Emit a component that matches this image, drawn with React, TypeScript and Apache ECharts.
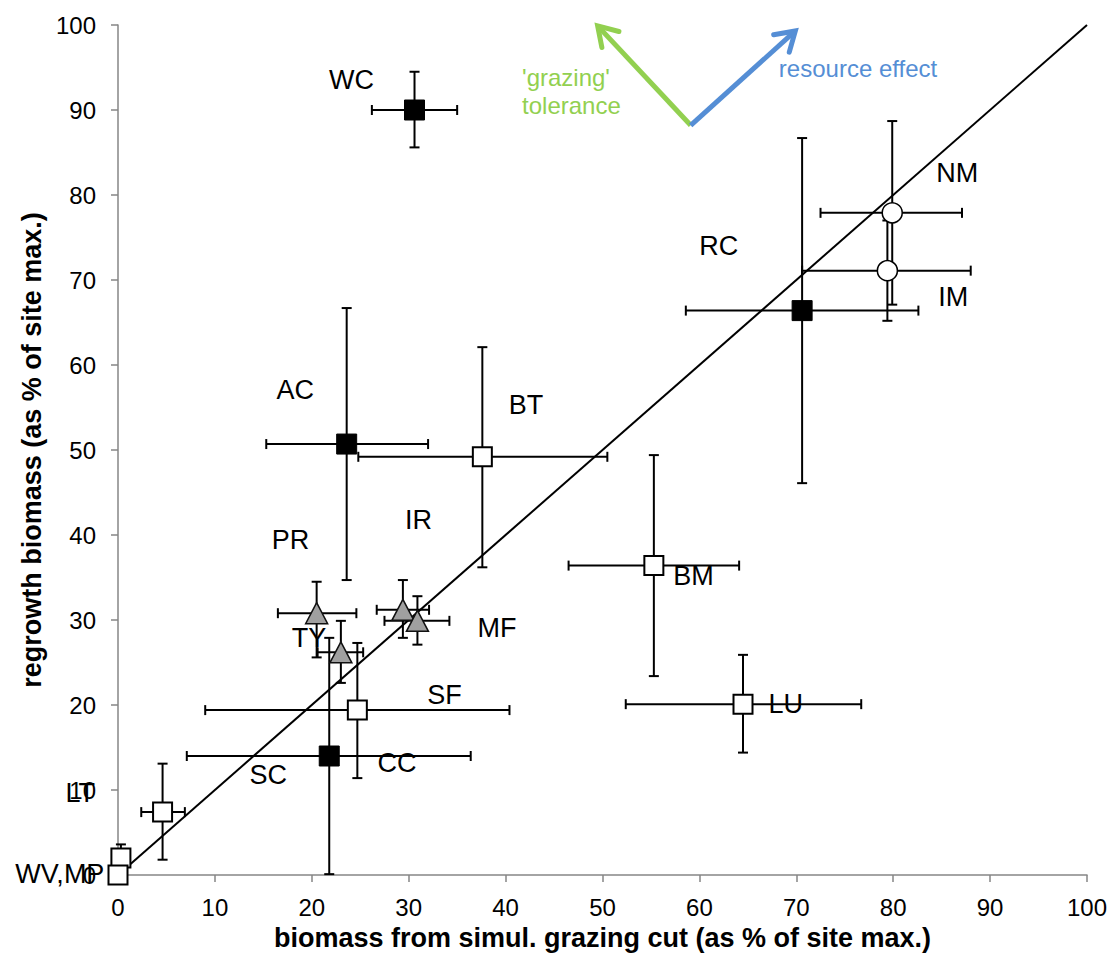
import React, { useEffect, useRef } from "react";
import * as echarts from "echarts";

// ---- data (x = biomass from simul. grazing cut, y = regrowth biomass), with error bounds ----
const filledSquares = [
  // [x, y, xLow, xHigh, yLow, yHigh]
  [30.6, 90.0, 26.2, 35.0, 85.6, 94.5], // WC
  [23.6, 50.7, 15.3, 32.0, 34.7, 66.7], // AC
  [70.6, 66.4, 58.6, 82.6, 46.1, 86.7], // RC
  [21.8, 14.0, 7.1, 36.4, 0.1, 27.9], // CC
];
const openSquares = [
  [37.6, 49.2, 24.8, 50.5, 36.2, 62.1], // BT
  [55.3, 36.4, 46.5, 64.1, 23.4, 49.4], // BM
  [64.5, 20.1, 52.4, 76.7, 14.4, 25.9], // LU
  [24.7, 19.4, 9.0, 40.4, 11.4, 27.3], // SF
  [4.6, 7.4, 2.4, 6.9, 1.8, 13.1], // LT
  [0.3, 2.0, 0.3, 0.3, 0.4, 3.6], // WV
  [0.0, 0.0, 0.0, 0.0, 0.0, 0.0], // MP
];
const openCircles = [
  [79.9, 77.9, 72.5, 87.1, 67.1, 88.7], // NM
  [79.4, 71.1, 70.6, 88.0, 65.2, 77.0], // IM
];
const triangles = [
  [20.5, 30.8, 16.5, 24.6, 25.6, 34.5], // PR
  [23.0, 26.2, 20.6, 25.3, 22.6, 29.9], // TY
  [29.4, 31.2, 26.7, 32.1, 27.9, 34.7], // IR
  [30.9, 29.9, 27.5, 34.2, 27.1, 32.8], // MF
];

const oneToOne = [
  [0, 0],
  [100, 100],
];

const labelNames = ["WC", "NM", "RC", "IM", "AC", "BT", "IR", "PR", "BM", "MF", "TY", "SF", "LU", "CC", "SC", "LT", "WV,MP"];
// label anchor points (data units)
const labelAnchors = [
  [24.1, 93.5], [86.6, 82.6], [62.0, 74.0], [86.2, 68.0], [18.3, 57.1], [42.1, 55.3],
  [31.0, 41.8], [17.8, 39.4], [59.4, 35.2], [39.1, 29.1], [19.7, 27.9], [33.7, 21.2],
  [68.9, 20.1], [28.8, 13.2], [15.5, 11.8], [-3.9, 9.6], [-6.0, 0.1],
];

const FONT = "'Liberation Sans', Arial, sans-serif";
const GREEN = "#92D050";
const BLUE = "#558ED5";

function errorBarRender(params: any, api: any) {
  const x = api.value(0);
  const y = api.value(1);
  const xl = api.value(2);
  const xh = api.value(3);
  const yl = api.value(4);
  const yh = api.value(5);
  const a = api.coord([xl, y]);
  const b = api.coord([xh, y]);
  const c = api.coord([x, yl]);
  const d = api.coord([x, yh]);
  const cap = 5;
  const style = { stroke: "#000", lineWidth: 2, fill: null };
  const ln = (x1: number, y1: number, x2: number, y2: number) => ({
    type: "line",
    shape: { x1, y1, x2, y2 },
    style,
  });
  return {
    type: "group",
    children: [
      ln(a[0], a[1], b[0], b[1]),
      ln(a[0], a[1] - cap, a[0], a[1] + cap),
      ln(b[0], b[1] - cap, b[0], b[1] + cap),
      ln(c[0], c[1], d[0], d[1]),
      ln(c[0] - cap, c[1], c[0] + cap, c[1]),
      ln(d[0] - cap, d[1], d[0] + cap, d[1]),
    ],
  };
}

export default function App() {
  const ref = useRef<HTMLDivElement>(null);
  useEffect(() => {
    document.body.style.margin = "0";
    const chart = echarts.init(ref.current!, undefined, { renderer: "svg" });
    const allPoints = [...filledSquares, ...openSquares, ...openCircles, ...triangles];
    const pts = (arr: number[][]) => arr.map((r) => [r[0], r[1]]);
    const axisCommon = {
      min: 0,
      max: 100,
      interval: 10,
      splitLine: { show: false },
      axisLine: { show: true, onZero: false, lineStyle: { color: "#868686", width: 1.5 } },
      axisTick: { show: true, inside: false, length: 7, lineStyle: { color: "#868686", width: 1.5 } },
      nameLocation: "middle",
      nameTextStyle: { color: "#000", fontSize: 27, fontWeight: "bold", fontFamily: FONT },
    };
    const markerBase = { opacity: 1 };
    chart.setOption({
      animation: false,
      backgroundColor: "#fff",
      textStyle: { fontFamily: FONT },
      grid: { left: 118, right: 29, top: 25, bottom: 83, containLabel: false, outerBoundsMode: "none" },
      xAxis: {
        type: "value",
        ...axisCommon,
        axisLabel: { color: "#000", fontSize: 24, fontFamily: FONT, margin: 20 },
        name: "biomass from simul. grazing cut (as % of site max.)",
        nameGap: 49,
      },
      yAxis: {
        type: "value",
        ...axisCommon,
        axisLabel: { color: "#000", fontSize: 24, fontFamily: FONT, margin: 22 },
        name: "regrowth biomass (as % of site max.)",
        nameGap: 72,
      },
      series: [
        {
          type: "line",
          data: oneToOne,
          symbol: "none",
          lineStyle: { color: "#000", width: 2 },
          z: 2,
          silent: true,
        },
        {
          type: "custom",
          data: allPoints,
          renderItem: errorBarRender,
          encode: { x: 0, y: 1 },
          z: 3,
          clip: false,
          silent: true,
        },
        {
          type: "scatter",
          data: pts(filledSquares),
          symbol: "rect",
          symbolSize: 20,
          itemStyle: { ...markerBase, color: "#000", borderColor: "#000", borderWidth: 1 },
          z: 4,
        },
        {
          type: "scatter",
          data: pts(openSquares),
          symbol: "rect",
          symbolSize: 19,
          itemStyle: { ...markerBase, color: "#fff", borderColor: "#000", borderWidth: 2 },
          z: 4,
        },
        {
          type: "scatter",
          data: pts(openCircles),
          symbol: "circle",
          symbolSize: 20,
          itemStyle: { ...markerBase, color: "#fff", borderColor: "#000", borderWidth: 1.5 },
          z: 4,
        },
        {
          type: "scatter",
          data: pts(triangles),
          symbol: "triangle",
          symbolSize: [22, 21],
          itemStyle: { ...markerBase, color: "#a0a0a0", borderColor: "#111", borderWidth: 1.5 },
          z: 4,
        },
        {
          type: "scatter",
          data: labelNames.map((n, i) => ({ name: n, value: labelAnchors[i] })),
          symbolSize: 0,
          silent: true,
          clip: false,
          itemStyle: { opacity: 1 },
          label: {
            show: true,
            position: "inside",
            formatter: "{b}",
            color: "#000",
            opacity: 1,
            fontSize: 27,
            fontFamily: FONT,
          },
          z: 6,
        },
      ],
    });

    // annotation arrows / texts (positioned in data units, converted to pixels)
    const P = (x: number, y: number) => chart.convertToPixel({ gridIndex: 0 }, [x, y]) as number[];
    const origin = P(59.1, 88.2);
    const arrow = (tip: number[], color: string) => {
      const dx = tip[0] - origin[0];
      const dy = tip[1] - origin[1];
      const len = Math.hypot(dx, dy);
      const ux = dx / len;
      const uy = dy / len;
      const head = 22;
      const ang = (32 * Math.PI) / 180;
      const rot = (a: number) => [
        tip[0] - head * (ux * Math.cos(a) - uy * Math.sin(a)),
        tip[1] - head * (ux * Math.sin(a) + uy * Math.cos(a)),
      ];
      const l = rot(ang);
      const r = rot(-ang);
      return [
        {
          type: "line",
          shape: { x1: origin[0], y1: origin[1], x2: tip[0], y2: tip[1] },
          style: { stroke: color, lineWidth: 5 },
        },
        {
          type: "polyline",
          shape: { points: [l, tip, r] },
          style: { stroke: color, lineWidth: 5, fill: null, lineCap: "round", lineJoin: "miter" },
        },
      ];
    };
    const g1 = P(41.7, 93.8);
    const g2 = P(41.7, 90.5);
    const rEff = P(68.2, 94.9);
    chart.setOption({
      graphic: [
        ...arrow(P(49.5, 99.9), GREEN),
        ...arrow(P(69.9, 99.3), BLUE),
        {
          type: "text",
          x: g1[0],
          y: g1[1],
          style: { text: "'grazing'", fill: GREEN, font: `24px ${FONT}`, textVerticalAlign: "middle" },
        },
        {
          type: "text",
          x: g2[0],
          y: g2[1],
          style: { text: "tolerance", fill: GREEN, font: `24px ${FONT}`, textVerticalAlign: "middle" },
        },
        {
          type: "text",
          x: rEff[0],
          y: rEff[1],
          style: { text: "resource effect", fill: BLUE, font: `24px ${FONT}`, textVerticalAlign: "middle" },
        },
      ],
    });
    return () => chart.dispose();
  }, []);
  return <div ref={ref} style={{ position: "fixed", left: 0, top: 0, width: 1116, height: 958 }} />;
}
